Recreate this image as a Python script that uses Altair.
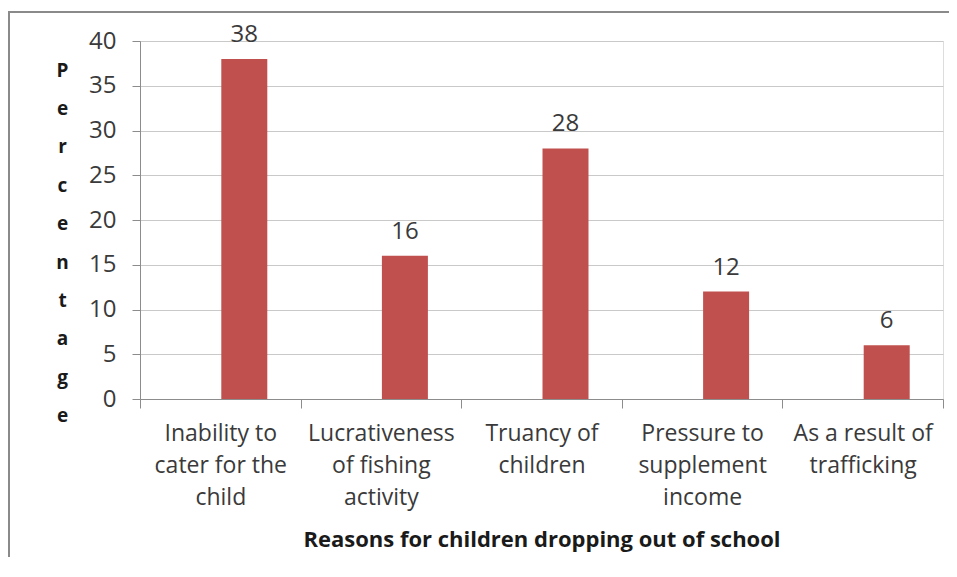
import altair as alt
import pandas as pd

categories = [
    "Inability to|cater for the|child",
    "Lucrativeness|of fishing|activity",
    "Truancy of|children",
    "Pressure to|supplement|income",
    "As a result of|trafficking",
]
values = [38, 16, 28, 12, 6]
y_ticks = [0, 5, 10, 15, 20, 25, 30, 35, 40]
y_title_letters = list("Percentage")
x_title = "Reasons for children dropping out of school"

df = pd.DataFrame({"reason": categories, "pct": values})

FONT = "Open Sans"
AXIS_GRAY = "#8c8c8c"
TEXT_GRAY = "#3a3a3a"

x_enc = alt.X(
    "reason:N",
    sort=categories,
    scale=alt.Scale(paddingInner=0, paddingOuter=0),
    axis=alt.Axis(
        title=x_title,
        titleFont=FONT,
        titleFontSize=22,
        titleFontWeight="bold",
        titleColor="#1a1a1a",
        titlePadding=20,
        labelExpr="split(datum.label, '|')",
        labelFont=FONT,
        labelFontSize=23,
        labelColor=TEXT_GRAY,
        labelLineHeight=32,
        labelPadding=14,
        labelAngle=0,
        labelLimit=0,
        labelOverlap=False,
        labelBaseline="top",
        tickBand="extent",
        tickSize=9,
        tickColor=AXIS_GRAY,
        domainColor=AXIS_GRAY,
        grid=False,
    ),
)

y_enc = alt.Y(
    "pct:Q",
    scale=alt.Scale(domain=[0, 40], nice=False),
    axis=alt.Axis(
        values=y_ticks,
        title=y_title_letters,
        titleAngle=0,
        titleAlign="center",
        titleBaseline="top",
        titleX=-78,
        titleY=20,
        titleLineHeight=38.4,
        titleFont=FONT,
        titleFontSize=19,
        titleFontWeight="bold",
        titleColor="#1a1a1a",
        labelFont=FONT,
        labelFontSize=24,
        labelColor=TEXT_GRAY,
        labelPadding=16,
        tickSize=8,
        tickColor=AXIS_GRAY,
        domainColor=AXIS_GRAY,
        gridColor="#c9c9c9",
        gridWidth=1,
    ),
)

frame_df = pd.DataFrame({"k": [0]})
frame_left = alt.Chart(frame_df).mark_rect(color="#8a8a8a", strokeWidth=0).encode(
    x=alt.value(-132), x2=alt.value(-130), y=alt.value(-30), y2=alt.value(560)
)
frame_top = alt.Chart(frame_df).mark_rect(color="#8a8a8a", strokeWidth=0).encode(
    x=alt.value(-132), x2=alt.value(809), y=alt.value(-30), y2=alt.value(-28)
)

bars = alt.Chart(df).mark_bar(color="#c0504d", size=46, xOffset=24).encode(
    x=x_enc, y=y_enc
)

labels = alt.Chart(df).mark_text(
    font=FONT, fontSize=24, color=TEXT_GRAY, baseline="alphabetic", dy=-17, xOffset=24
).encode(
    x=alt.X("reason:N", sort=categories),
    y=alt.Y("pct:Q"),
    text=alt.Text("pct:Q"),
)

chart = alt.layer(frame_left, frame_top, bars, labels).properties(
    width=803,
    height=358,
    autosize=alt.AutoSizeParams(type="none"),
    padding={"left": 132, "top": 33, "right": 6, "bottom": 158},
).configure_view(stroke=None).configure(background="white")

chart.save("out.html", embed_options={"renderer": "svg", "actions": False})
